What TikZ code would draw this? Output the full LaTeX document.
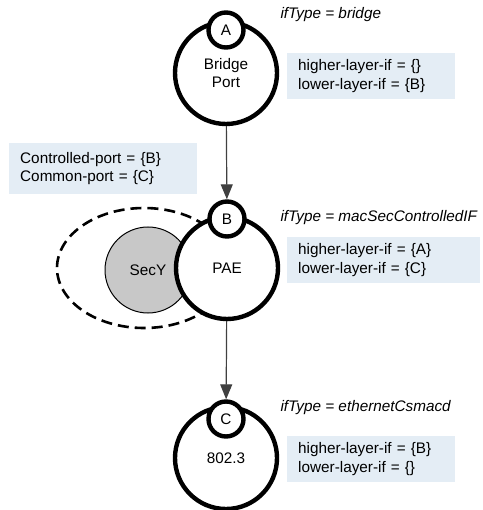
\documentclass[tikz,border=0pt]{standalone}
\usepackage{fontspec}
\setmainfont{Liberation Sans}
\usepackage{xcolor}
\usetikzlibrary{arrows.meta,shapes.geometric}
\definecolor{boxblue}{RGB}{228,237,245}
\definecolor{secygray}{RGB}{200,200,200}

\begin{document}
\begin{tikzpicture}[x=1pt,y=-1pt,
    font=\fontsize{15.3pt}{18.5pt}\selectfont,
    port/.style={circle,draw,line width=4.4pt,fill=white,inner sep=0pt,minimum size=102pt,align=center},
    ifport/.style={circle,draw,line width=4.4pt,fill=white,inner sep=0pt,minimum size=35pt},
    secy/.style={circle,draw,line width=1pt,fill=secygray,inner sep=0pt,minimum size=86pt},
    zone/.style={ellipse,draw,line width=2.6pt,dash pattern=on 11pt off 6pt,inner sep=0pt,minimum width=174pt,minimum height=120pt},
    link/.style={draw=black!75,line width=1.2pt,-{Triangle[width=12pt,length=15pt]}},
    info/.style={fill=boxblue,anchor=north west,align=left,inner xsep=11pt,inner ysep=6.5pt,text width=146pt},
    iftype/.style={anchor=west,font=\fontsize{15.3pt}{18.5pt}\selectfont\itshape}
]
\useasboundingbox (0,0) rectangle (482,510);

\node[zone] (zoneB) at (144,268) {};
\node[secy] (secyB) at (148,270) {SecY};
\node[port] (bigB) at (227,268) {PAE};
\node[ifport] (ifB) at (227,219) {B};

\node[port] (bigA) at (226,73) {Bridge\\Port};
\node[ifport] (ifA) at (226,30) {A};

\node[port] (bigC) at (226,458) {802.3};
\node[ifport] (ifC) at (226,419) {C};

\draw[link] (bigA) -- (ifB);
\draw[link] (bigB) -- (ifC);

\node[iftype] (typeA) at (277,15) {ifType = bridge};
\node[iftype] (typeB) at (277,218) {ifType = macSecControlledIF};
\node[iftype] (typeC) at (277,408) {ifType = ethernetCsmacd};

\node[info] (layersA) at (287,53) {higher-layer-if = \{\}\\lower-layer-if = \{B\}};
\node[info,text width=171pt] (layersB) at (287,237) {higher-layer-if = \{A\}\\lower-layer-if = \{C\}};
\node[info] (layersC) at (287,436) {higher-layer-if = \{B\}\\lower-layer-if = \{\}};

\node[info,text width=166pt,inner ysep=9pt] (ports) at (9,143) {Controlled-port = \{B\}\\Common-port = \{C\}};

\end{tikzpicture}
\end{document}
